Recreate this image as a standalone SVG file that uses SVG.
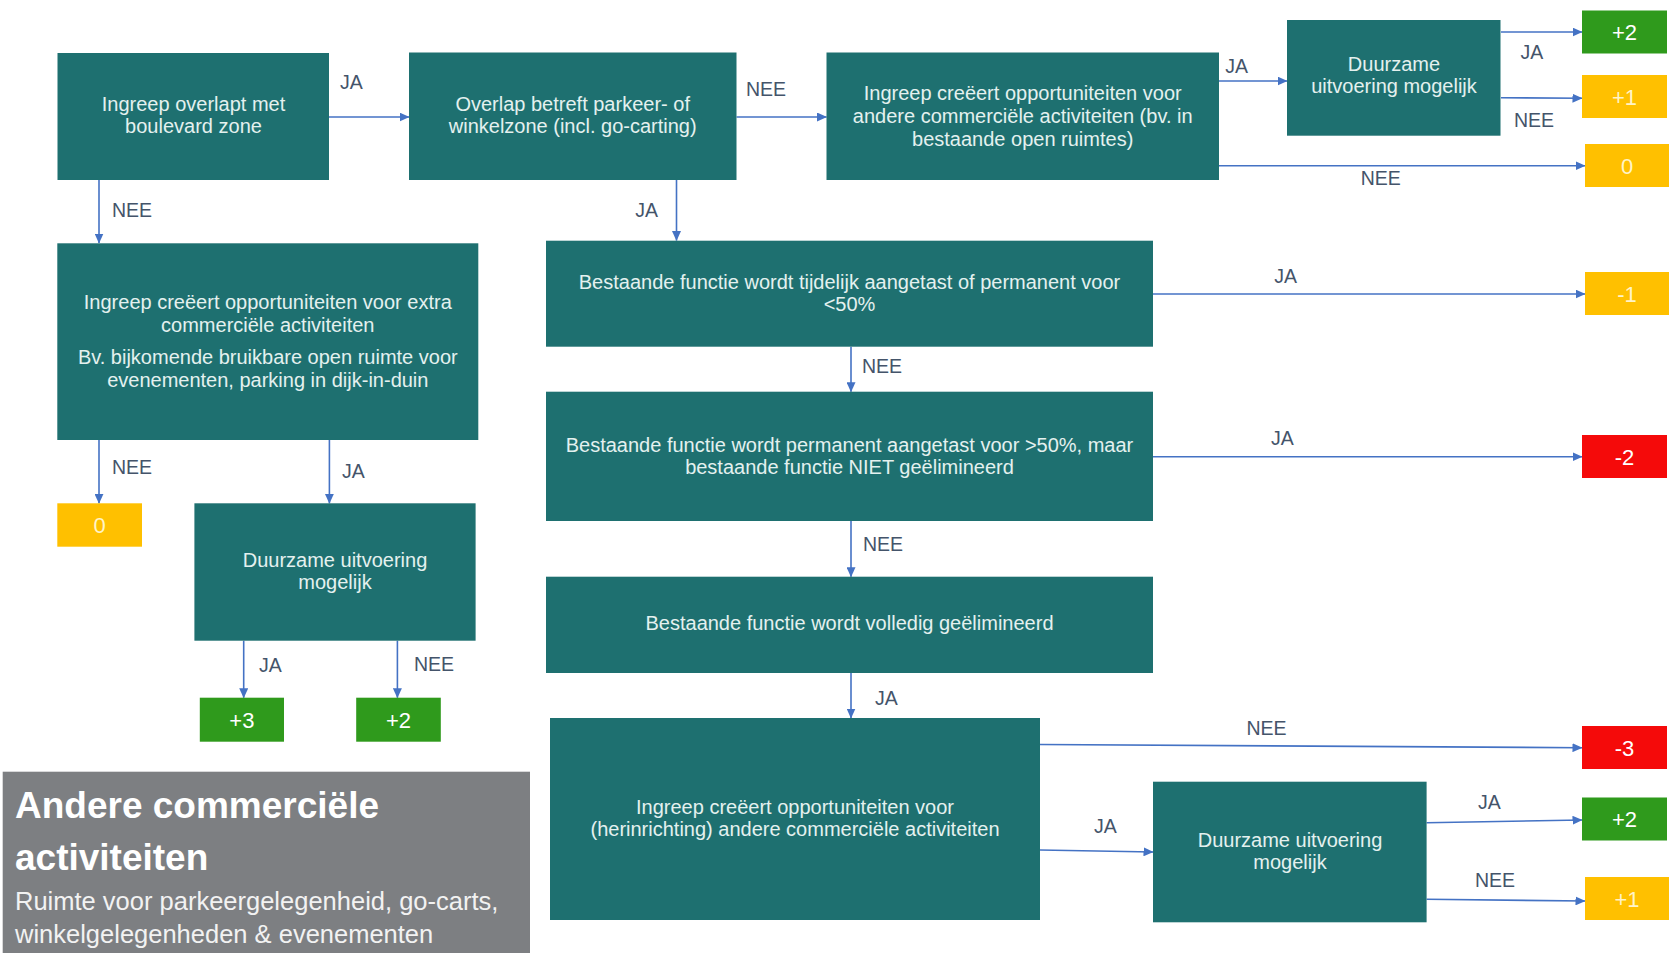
<svg xmlns="http://www.w3.org/2000/svg" width="1673" height="953" viewBox="0 0 1673 953">
  <defs>
    <marker id="arrow" markerUnits="userSpaceOnUse" markerWidth="10" markerHeight="9" refX="9.5" refY="4.5" orient="auto">
      <path d="M0,0 L10,4.5 L0,9 Z" fill="#4472C4"/>
    </marker>
    <style>
      .box { fill: #1E7070; }
      .box-text { font-family: "Liberation Sans", Arial, sans-serif; font-size: 20px; fill: #E4F1EF; text-anchor: middle; }
      .edge { stroke: #4472C4; stroke-width: 1.6; fill: none; marker-end: url(#arrow); }
      .label { font-family: "Liberation Sans", Arial, sans-serif; font-size: 19.5px; fill: #44546A; }
      .score { font-family: "Liberation Sans", Arial, sans-serif; font-size: 22px; text-anchor: middle; }
      .green { fill: #2F9A1C; }
      .yellow { fill: #FFC000; }
      .red { fill: #F50A0A; }
      .on-green, .on-red { fill: #FFFFFF; }
      .on-yellow { fill: #FFF4C8; }
      .title { font-family: "Liberation Sans", Arial, sans-serif; font-size: 37px; font-weight: bold; fill: #FFFFFF; }
      .subtitle { font-family: "Liberation Sans", Arial, sans-serif; font-size: 25.5px; fill: #F2F2F2; }
    </style>
  </defs>

  <rect x="0" y="0" width="1673" height="953" fill="#FFFFFF"/>

  <!-- connectors -->
  <g id="connectors">
    <line class="edge" x1="329" y1="117" x2="409" y2="117"/>
    <line class="edge" x1="736.5" y1="117" x2="826.5" y2="117"/>
    <line class="edge" x1="99" y1="180" x2="99" y2="243"/>
    <line class="edge" x1="676.5" y1="180" x2="676.5" y2="240.5"/>
    <line class="edge" x1="1219" y1="81" x2="1287" y2="81"/>
    <line class="edge" x1="1501" y1="32" x2="1582" y2="32"/>
    <line class="edge" x1="1501" y1="97.7" x2="1582" y2="98.3"/>
    <line class="edge" x1="1219" y1="165.7" x2="1585" y2="165.7"/>
    <line class="edge" x1="1153" y1="294" x2="1585" y2="294"/>
    <line class="edge" x1="851" y1="346.7" x2="851" y2="391.7"/>
    <line class="edge" x1="1153" y1="456.7" x2="1582" y2="456.7"/>
    <line class="edge" x1="851" y1="521" x2="851" y2="576.7"/>
    <line class="edge" x1="851" y1="673" x2="851" y2="718"/>
    <line class="edge" x1="1040" y1="744.5" x2="1582" y2="747.7"/>
    <line class="edge" x1="1040" y1="850" x2="1153" y2="852"/>
    <line class="edge" x1="1426.6" y1="822.7" x2="1582" y2="820"/>
    <line class="edge" x1="1426.6" y1="899.3" x2="1585" y2="901"/>
    <line class="edge" x1="99" y1="440" x2="99" y2="503.3"/>
    <line class="edge" x1="329.4" y1="440" x2="329.4" y2="503.3"/>
    <line class="edge" x1="243.7" y1="640.7" x2="243.7" y2="697.7"/>
    <line class="edge" x1="397.4" y1="640.7" x2="397.4" y2="697.7"/>

    <text class="label" x="351.5" y="89" text-anchor="middle">JA</text>
    <text class="label" x="766" y="95.5" text-anchor="middle">NEE</text>
    <text class="label" x="112" y="217">NEE</text>
    <text class="label" x="646.6" y="217" text-anchor="middle">JA</text>
    <text class="label" x="1236.7" y="73" text-anchor="middle">JA</text>
    <text class="label" x="1532" y="59" text-anchor="middle">JA</text>
    <text class="label" x="1534" y="126.5" text-anchor="middle">NEE</text>
    <text class="label" x="1380.7" y="185" text-anchor="middle">NEE</text>
    <text class="label" x="1285.7" y="283" text-anchor="middle">JA</text>
    <text class="label" x="862" y="373">NEE</text>
    <text class="label" x="1282.5" y="444.5" text-anchor="middle">JA</text>
    <text class="label" x="863" y="551">NEE</text>
    <text class="label" x="875" y="705">JA</text>
    <text class="label" x="1266.5" y="734.7" text-anchor="middle">NEE</text>
    <text class="label" x="1105.4" y="833" text-anchor="middle">JA</text>
    <text class="label" x="1489.5" y="809" text-anchor="middle">JA</text>
    <text class="label" x="1495" y="887" text-anchor="middle">NEE</text>
    <text class="label" x="112" y="474">NEE</text>
    <text class="label" x="342" y="477.5">JA</text>
    <text class="label" x="259" y="672">JA</text>
    <text class="label" x="414" y="670.5">NEE</text>
  </g>

  <!-- decision boxes -->
  <g id="boulevard">
    <rect class="box" x="57.5" y="53" width="271.5" height="127"/>
    <text class="box-text" x="193.5" y="111">Ingreep overlapt met</text>
    <text class="box-text" x="193.5" y="133">boulevard zone</text>
  </g>
  <g id="parkeer-winkelzone">
    <rect class="box" x="409" y="52.5" width="327.5" height="127.5"/>
    <text class="box-text" x="572.7" y="111">Overlap betreft parkeer- of</text>
    <text class="box-text" x="572.7" y="133">winkelzone (incl. go-carting)</text>
  </g>
  <g id="andere-opportuniteiten">
    <rect class="box" x="826.5" y="52.5" width="392.5" height="127.5"/>
    <text class="box-text" x="1022.7" y="99.5">Ingreep creëert opportuniteiten voor</text>
    <text class="box-text" x="1022.7" y="122.5">andere commerciële activiteiten (bv. in</text>
    <text class="box-text" x="1022.7" y="145.5">bestaande open ruimtes)</text>
  </g>
  <g id="duurzaam-top">
    <rect class="box" x="1287" y="20" width="213.5" height="115.7"/>
    <text class="box-text" x="1394" y="70.7">Duurzame</text>
    <text class="box-text" x="1394" y="92.7">uitvoering mogelijk</text>
  </g>
  <g id="extra-opportuniteiten">
    <rect class="box" x="57.3" y="243.3" width="421" height="196.7"/>
    <text class="box-text" x="267.8" y="309">Ingreep creëert opportuniteiten voor extra</text>
    <text class="box-text" x="267.8" y="331.5">commerciële activiteiten</text>
    <text class="box-text" x="267.8" y="364">Bv. bijkomende bruikbare open ruimte voor</text>
    <text class="box-text" x="267.8" y="387">evenementen, parking in dijk-in-duin</text>
  </g>
  <g id="duurzaam-left">
    <rect class="box" x="194.4" y="503.3" width="281.2" height="137.4"/>
    <text class="box-text" x="335" y="567">Duurzame uitvoering</text>
    <text class="box-text" x="335" y="589">mogelijk</text>
  </g>
  <g id="tijdelijk-aangetast">
    <rect class="box" x="546" y="240.7" width="607" height="106"/>
    <text class="box-text" x="849.5" y="288.5">Bestaande functie wordt tijdelijk aangetast of permanent voor</text>
    <text class="box-text" x="849.5" y="311">&lt;50%</text>
  </g>
  <g id="permanent-aangetast">
    <rect class="box" x="546" y="391.7" width="607" height="129.3"/>
    <text class="box-text" x="849.5" y="451.5">Bestaande functie wordt permanent aangetast voor &gt;50%, maar</text>
    <text class="box-text" x="849.5" y="474">bestaande functie NIET geëlimineerd</text>
  </g>
  <g id="volledig-geelimineerd">
    <rect class="box" x="546" y="576.7" width="607" height="96.3"/>
    <text class="box-text" x="849.5" y="630">Bestaande functie wordt volledig geëlimineerd</text>
  </g>
  <g id="herinrichting">
    <rect class="box" x="550" y="718" width="490" height="202"/>
    <text class="box-text" x="795" y="813.5">Ingreep creëert opportuniteiten voor</text>
    <text class="box-text" x="795" y="836">(herinrichting) andere commerciële activiteiten</text>
  </g>
  <g id="duurzaam-bottom">
    <rect class="box" x="1153" y="781.7" width="273.6" height="140.6"/>
    <text class="box-text" x="1290" y="847">Duurzame uitvoering</text>
    <text class="box-text" x="1290" y="869">mogelijk</text>
  </g>

  <!-- score boxes -->
  <g id="score-plus2-top">
    <rect class="green" x="1582" y="10.5" width="85" height="43"/>
    <text class="score on-green" x="1624.5" y="40">+2</text>
  </g>
  <g id="score-plus1-top">
    <rect class="yellow" x="1582" y="75" width="85" height="43"/>
    <text class="score on-yellow" x="1624.5" y="104.5">+1</text>
  </g>
  <g id="score-0-top">
    <rect class="yellow" x="1585" y="144" width="84" height="43"/>
    <text class="score on-yellow" x="1627" y="173.5">0</text>
  </g>
  <g id="score-min1">
    <rect class="yellow" x="1585" y="272" width="84" height="43"/>
    <text class="score on-yellow" x="1627" y="301.5">-1</text>
  </g>
  <g id="score-min2">
    <rect class="red" x="1582" y="435" width="85" height="43"/>
    <text class="score on-red" x="1624.5" y="464.5">-2</text>
  </g>
  <g id="score-min3">
    <rect class="red" x="1582" y="726" width="85" height="43"/>
    <text class="score on-red" x="1624.5" y="755.5">-3</text>
  </g>
  <g id="score-plus2-bottom">
    <rect class="green" x="1582" y="797.5" width="85" height="43"/>
    <text class="score on-green" x="1624.5" y="827">+2</text>
  </g>
  <g id="score-plus1-bottom">
    <rect class="yellow" x="1585" y="877" width="84" height="43"/>
    <text class="score on-yellow" x="1627" y="906.5">+1</text>
  </g>
  <g id="score-0-left">
    <rect class="yellow" x="57.3" y="503.3" width="84.7" height="43.4"/>
    <text class="score on-yellow" x="99.6" y="533">0</text>
  </g>
  <g id="score-plus3-left">
    <rect class="green" x="199.8" y="697.7" width="84.2" height="44"/>
    <text class="score on-green" x="241.9" y="727.5">+3</text>
  </g>
  <g id="score-plus2-left">
    <rect class="green" x="356.2" y="697.7" width="84.6" height="44"/>
    <text class="score on-green" x="398.5" y="727.5">+2</text>
  </g>

  <!-- title panel -->
  <g id="title">
    <rect x="2.7" y="771.7" width="527.3" height="181.3" fill="#7D7F82"/>
    <text class="title" x="15" y="818">Andere commerciële</text>
    <text class="title" x="15" y="870">activiteiten</text>
    <text class="subtitle" x="15" y="910">Ruimte voor parkeergelegenheid, go-carts,</text>
    <text class="subtitle" x="15" y="943">winkelgelegenheden &amp; evenementen</text>
  </g>
</svg>
